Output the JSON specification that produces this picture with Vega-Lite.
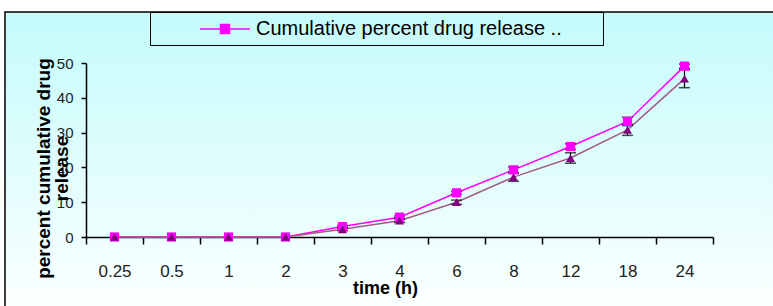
{
  "$schema": "https://vega.github.io/schema/vega-lite/v6.json",
  "width": 770,
  "height": 296,
  "autosize": "none",
  "padding": {"left": 5, "top": 12, "right": 0, "bottom": 0},
  "background": "white",
  "config": {
    "font": "Liberation Sans",
    "view": {
      "fill": {"gradient": "linear", "x1": 0, "y1": 0, "x2": 0, "y2": 1, "stops": [{"offset": 0, "color": "#c4fbfb"}, {"offset": 1, "color": "#fbffff"}]},
      "stroke": "black",
      "strokeWidth": 1.5
    },
    "legend": {
      "orient": "none",
      "legendX": 145,
      "legendY": 0,
      "strokeColor": "black",
      "strokeWidth": 1,
      "padding": 6,
      "symbolType": "M-2.5,0L2.5,0M-0.45,-0.45L0.45,-0.45L0.45,0.45L-0.45,0.45ZM36.9,0",
      "symbolSize": 400,
      "symbolStrokeWidth": 1.5,
      "symbolOffset": 58,
      "labelOffset": 20,
      "labelFontSize": 20,
      "labelColor": "black",
      "labelLimit": 500
    }
  },
  "data": {
    "values": [
      {"time": "0.25", "sq": 0, "sqErr": 0, "tri": 0, "triErr": 0},
      {"time": "0.5", "sq": 0, "sqErr": 0, "tri": 0, "triErr": 0},
      {"time": "1", "sq": 0, "sqErr": 0, "tri": 0, "triErr": 0},
      {"time": "2", "sq": 0, "sqErr": 0, "tri": 0, "triErr": 0},
      {"time": "3", "sq": 3.0, "sqErr": 0.3, "tri": 2.2, "triErr": 0.4},
      {"time": "4", "sq": 5.7, "sqErr": 0.3, "tri": 4.7, "triErr": 0.5},
      {"time": "6", "sq": 12.7, "sqErr": 0.4, "tri": 10.0, "triErr": 0.6},
      {"time": "8", "sq": 19.3, "sqErr": 0.8, "tri": 17.2, "triErr": 1.2},
      {"time": "12", "sq": 26.0, "sqErr": 0.8, "tri": 22.7, "triErr": 1.5},
      {"time": "18", "sq": 33.2, "sqErr": 1.2, "tri": 30.8, "triErr": 1.6},
      {"time": "24", "sq": 49.1, "sqErr": 0.6, "tri": 45.5, "triErr": 2.6}
    ]
  },
  "encoding": {
    "x": {
      "field": "time",
      "type": "ordinal",
      "sort": null,
      "scale": {"domain": ["0.25", "0.5", "1", "2", "3", "4", "6", "8", "12", "18", "24"], "range": [81, 708], "paddingInner": 0, "paddingOuter": 0},
      "axis": {
        "title": "time (h)",
        "orient": "bottom",
        "offset": -71,
        "domainColor": "black",
        "domainWidth": 1.5,
        "tickColor": "black",
        "tickWidth": 1.5,
        "tickSize": 7,
        "tickBand": "extent",
        "labelAngle": 0,
        "labelFontSize": 17,
        "labelColor": "#222222",
        "labelBaseline": "middle",
        "labelPadding": 27,
        "titleFontSize": 18,
        "titleFontWeight": "bold",
        "titleColor": "black",
        "titleX": 380,
        "titleY": 51,
        "titleAlign": "center",
        "titleBaseline": "middle"
      }
    }
  },
  "layer": [
    {
      "mark": {"type": "line", "strokeWidth": 1.5},
      "encoding": {
        "y": {
          "field": "sq",
          "type": "quantitative",
          "title": ["percent cumulative drug", "release"],
          "scale": {"domain": [0, 50], "range": [225, 51], "nice": false, "zero": true},
          "axis": {
            "orient": "left",
            "offset": -81,
            "values": [0, 10, 20, 30, 40, 50],
            "grid": false,
            "domainColor": "black",
            "domainWidth": 1.5,
            "tickColor": "black",
            "tickWidth": 1.5,
            "tickSize": 5,
            "labelPadding": 8,
            "labelFontSize": 15,
            "labelColor": "#222222",
            "titleFontSize": 19,
            "titleFontWeight": "bold",
            "titleColor": "black",
            "titleLineHeight": 18,
            "titleX": -43,
            "titleY": 156,
            "titleAlign": "center",
            "titleBaseline": "middle"
          }
        },
        "color": {"datum": "Cumulative percent drug release ..", "scale": {"range": ["#ff00ff"]}, "legend": {"title": null}}
      }
    },
    {
      "mark": {"type": "line", "color": "#a35c82", "strokeWidth": 1.5},
      "encoding": {"y": {"field": "tri", "type": "quantitative", "title": ["percent cumulative drug", "release"]}}
    },
    {
      "transform": [{"filter": "datum.sqErr > 0"}],
      "mark": {"type": "errorbar", "color": "black", "thickness": 1.2, "ticks": {"size": 11, "color": "black", "thickness": 1.5}},
      "encoding": {"y": {"field": "sq", "type": "quantitative", "title": ["percent cumulative drug", "release"]}, "yError": {"field": "sqErr"}}
    },
    {
      "transform": [{"filter": "datum.triErr > 0"}],
      "mark": {"type": "errorbar", "color": "black", "thickness": 1.2, "ticks": {"size": 11, "color": "black", "thickness": 1.5}},
      "encoding": {"y": {"field": "tri", "type": "quantitative", "title": ["percent cumulative drug", "release"]}, "yError": {"field": "triErr"}}
    },
    {
      "mark": {"type": "point", "shape": "square", "filled": true, "size": 85, "opacity": 1},
      "encoding": {
        "y": {"field": "sq", "type": "quantitative", "title": ["percent cumulative drug", "release"]},
        "color": {"datum": "Cumulative percent drug release .."}
      }
    },
    {
      "mark": {"type": "point", "shape": "triangle-up", "filled": true, "size": 80, "color": "#800080", "opacity": 1},
      "encoding": {"y": {"field": "tri", "type": "quantitative", "title": ["percent cumulative drug", "release"]}}
    }
  ]
}
